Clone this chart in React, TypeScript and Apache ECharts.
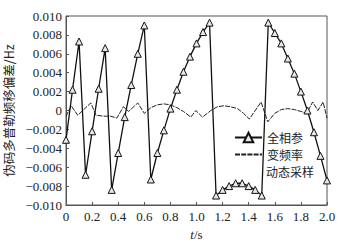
import React, { useEffect, useRef } from "react";
import * as echarts from "echarts";

const fullTimes = [0, 0.05, 0.1, 0.15, 0.2, 0.25, 0.3, 0.35, 0.4, 0.45, 0.5, 0.55, 0.6, 0.65, 0.7, 0.75, 0.8, 0.85, 0.9, 0.95, 1.0, 1.05, 1.1, 1.15, 1.2, 1.25, 1.3, 1.35, 1.4, 1.45, 1.5, 1.55, 1.6, 1.65, 1.7, 1.75, 1.8, 1.85, 1.9, 1.95, 2.0];
const fullValues = [-0.0031, 0.0022, 0.0073, -0.0068, -0.0022, 0.0023, 0.0066, -0.0084, -0.0045, -0.0007, 0.0027, 0.006, 0.009, -0.0073, -0.0045, -0.0021, 0.0002, 0.0022, 0.0041, 0.0057, 0.0071, 0.0083, 0.0093, -0.009, -0.0084, -0.008, -0.0077, -0.0077, -0.008, -0.0084, -0.009, 0.0093, 0.0082, 0.0071, 0.0055, 0.0039, 0.002, 0.0, -0.0023, -0.0048, -0.0074];

const varTimes = [0, 0.04, 0.09, 0.19, 0.23, 0.29, 0.34, 0.39, 0.44, 0.48, 0.55, 0.6, 0.65, 0.7, 0.75, 0.8, 0.85, 0.9, 0.956, 0.995, 1.046, 1.11, 1.16, 1.21, 1.26, 1.315, 1.36, 1.405, 1.495, 1.546, 1.6, 1.65, 1.7, 1.75, 1.8, 1.845, 1.89, 1.93, 1.97, 2.0];
const varValues = [-0.0006, 0.0005, -0.0005, 0.0008, -0.0005, -0.0006, -0.0006, -0.0008, 0.0004, -0.0001, 0.0008, -0.0003, 0.0003, 0.0006, 0.0007, 0.0006, 0.0003, -0.0001, -0.0007, 0.0, -0.0007, 0.0, 0.0004, 0.0005, 0.0004, 0.0002, -0.0003, -0.0009, 0.0009, -0.0012, -0.0003, 0.0001, 0.0002, 0.0001, -0.0001, -0.0003, 0.0009, 0.0, 0.0009, -0.0008];

const seriesNames = ["全相参", "变频率动态采样"];
const legendLine1 = ["全相参", "变频率"];
const legendLine2 = "动态采样";
const yAxisTitle = "伪码多普勒频移偏差/Hz";

const serif = "'Liberation Serif', 'DejaVu Serif', serif";
const cjk = "'Noto Sans CJK SC', sans-serif";

export default function App() {
  const ref = useRef<HTMLDivElement>(null);
  useEffect(() => {
    if (!ref.current) return;
    const chart = echarts.init(ref.current, undefined, { renderer: "svg" });
    const fullData = fullTimes.map((t, i) => [t, fullValues[i]]);
    const varData = varTimes.map((t, i) => [t, varValues[i]]);
    chart.setOption({
      animation: false,
      backgroundColor: "#fff",
      grid: {
        left: 66,
        right: 16,
        top: 16,
        bottom: 38,
        show: true,
        borderColor: "#555",
        borderWidth: 1,
        outerBoundsMode: "none",
        containLabel: false,
      },
      legend: [
        {
          data: [seriesNames[0]],
          left: 234,
          top: 131.5,
          padding: 0,
          itemWidth: 27,
          itemHeight: 12,
          formatter: () => legendLine1[0],
          textStyle: { fontFamily: cjk, fontSize: 12, color: "#222" },
        },
        {
          data: [seriesNames[1]],
          left: 234,
          top: 148.5,
          padding: 0,
          itemWidth: 27,
          itemHeight: 12,
          itemStyle: { color: "transparent", borderWidth: 0, opacity: 0 },
          formatter: () => legendLine1[1],
          textStyle: { fontFamily: cjk, fontSize: 12, color: "#222" },
        },
      ],
      graphic: [
        {
          type: "text",
          left: 266,
          top: 165,
          style: {
            text: legendLine2,
            fontFamily: cjk,
            fontSize: 12,
            fill: "#222",
          },
        },
      ],
      xAxis: {
        type: "value",
        min: 0,
        max: 2,
        interval: 0.2,
        name: "{i|t}/s",
        nameLocation: "middle",
        nameGap: 19,
        nameTextStyle: {
          fontFamily: serif,
          fontSize: 13,
          color: "#222",
          rich: { i: { fontStyle: "italic", fontFamily: serif, fontSize: 13, color: "#222" } },
        },
        axisLine: { onZero: false, lineStyle: { color: "#555", width: 1 } },
        axisTick: { inside: true, length: 3, lineStyle: { color: "#555" } },
        splitLine: { show: false },
        axisLabel: {
          margin: 5,
          fontFamily: serif,
          fontSize: 13,
          color: "#222",
          formatter: (v: number) => (Math.abs(v) < 1e-9 ? "0" : v.toFixed(1)),
        },
      },
      yAxis: {
        type: "value",
        min: -0.01,
        max: 0.01,
        interval: 0.002,
        name: yAxisTitle,
        nameLocation: "middle",
        nameGap: 46,
        nameRotate: 90,
        nameTextStyle: { fontFamily: cjk, fontSize: 12.5, color: "#222" },
        axisLine: { onZero: false, lineStyle: { color: "#555", width: 1 } },
        axisTick: { inside: true, length: 3, lineStyle: { color: "#555" } },
        splitLine: { show: false },
        axisLabel: {
          margin: 4,
          fontFamily: serif,
          fontSize: 13,
          color: "#222",
          formatter: (v: number) =>
            Math.abs(v) < 1e-9 ? "0" : (v < 0 ? "\u2212" : "") + Math.abs(v).toFixed(3),
        },
      },
      series: [
        {
          name: seriesNames[0],
          type: "line",
          data: fullData,
          symbol: "triangle",
          symbolSize: 7,
          showAllSymbol: true,
          lineStyle: { color: "#111", width: 1.3 },
          itemStyle: { color: "#e8e8e8", borderColor: "#111", borderWidth: 1 },
          z: 3,
        },
        {
          name: seriesNames[1],
          type: "line",
          data: varData,
          symbol: "none",
          lineStyle: { color: "#222", width: 1, type: [5, 1.2] },
          itemStyle: { color: "#222" },
          z: 2,
        },
      ],
    });
    return () => chart.dispose();
  }, []);
  return (
    <div
      ref={ref}
      style={{ position: "fixed", left: 0, top: 0, width: 343, height: 243, background: "#fff" }}
    />
  );
}
